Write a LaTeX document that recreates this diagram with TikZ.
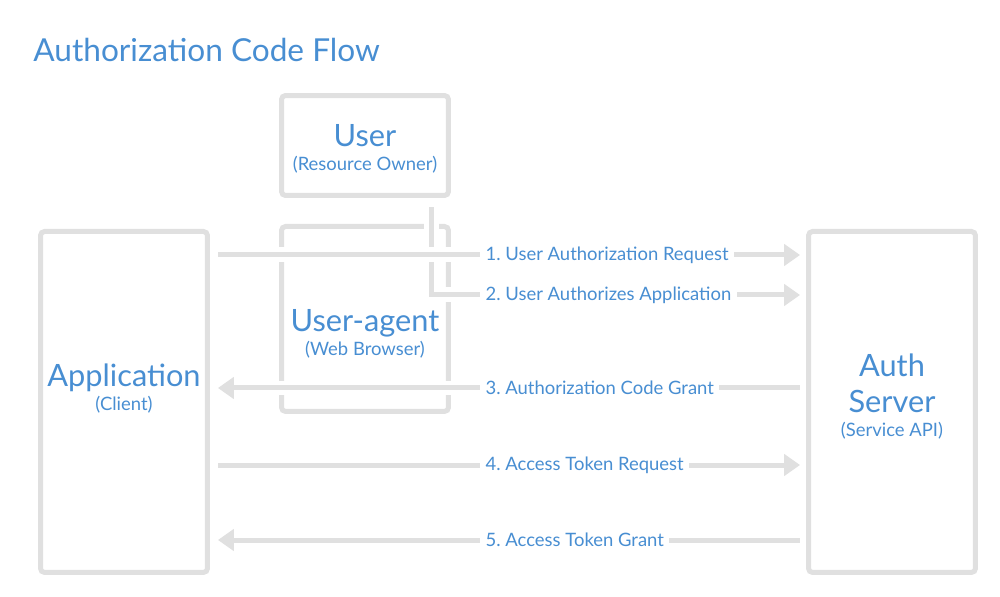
\documentclass[tikz,border=0pt]{standalone}
\usepackage{fontspec}
\setmainfont{Lato}
\usetikzlibrary{arrows.meta, positioning, calc}
\definecolor{flowBlue}{RGB}{72,142,210}
\definecolor{flowGray}{RGB}{224,224,224}
\newcommand{\subtxt}[1]{{\fontsize{10.5}{12}\selectfont #1}}

\begin{document}
\begin{tikzpicture}[x=0.02cm, y=-0.02cm,
    box/.style={draw=flowGray, line width=0.1cm, rounded corners=0.08cm,
                minimum width=3.34cm, align=center, text=flowBlue,
                font=\fontsize{17.5}{20.5}\selectfont},
    flow/.style={draw=flowGray, line width=0.1cm,
                 -{Triangle[length=9pt,width=12pt]},
                 preaction={draw=white, line width=0.3cm, -}},
    lbl/.style={fill=white, text=flowBlue, font=\fontsize{10.5}{12}\selectfont,
                anchor=west, inner sep=3pt}]
    \useasboundingbox (0,0) rectangle (1000,597);

    % Title
    \node[anchor=base west, inner sep=0, text=flowBlue,
          font=\fontsize{18}{21}\selectfont] (title) at (33,62) {Authorization Code Flow};

    % Boxes
    \node[box, minimum height=2cm] (user) at (365,145.5) {\mbox{}\\[-4pt]User\\[-7pt]\subtxt{(Resource Owner)}};
    \node[box, minimum height=3.7cm, below=0.52cm of user] (agent) {\mbox{}\\[9pt]User-agent\\[-7pt]\subtxt{(Web Browser)}};
    \node[box, minimum height=6.82cm, anchor=north] (app) at (124,229) {Application\\[-7pt]\subtxt{(Client)}\\[-4pt]};
    \node[box, minimum height=6.82cm, anchor=north] (auth) at (892,229) {Auth\\Server\\[-7pt]\subtxt{(Service API)}\\[-13pt]\mbox{}};

    % Rows of the messages
    \coordinate (r1) at (0,255);
    \coordinate (r2) at (0,295);
    \coordinate (r3) at (0,388);
    \coordinate (r4) at (0,465);
    \coordinate (r5) at (0,540);

    % Messages
    \draw[flow, shorten >=0.12cm] ($(user.south east)+(-19,9)$) |- (auth.west |- r2);
    \draw[flow, shorten <=0.16cm, shorten >=0.12cm] (app.east |- r1) -- (auth.west |- r1);
    \draw[flow, shorten <=0.12cm, shorten >=0.16cm] (auth.west |- r3) -- (app.east |- r3);
    \draw[flow, shorten <=0.16cm, shorten >=0.12cm] (app.east |- r4) -- (auth.west |- r4);
    \draw[flow, shorten <=0.12cm, shorten >=0.16cm] (auth.west |- r5) -- (app.east |- r5);

    % Labels
    \foreach \y/\n/\t in {255/1/User Authorization Request,
                          295/2/User Authorizes Application,
                          388/3/Authorization Code Grant,
                          465/4/Access Token Request,
                          540/5/Access Token Grant} {
        \node[lbl] (msg\n) at (480,\y) {\n.\ \t};
    }
\end{tikzpicture}
\end{document}
